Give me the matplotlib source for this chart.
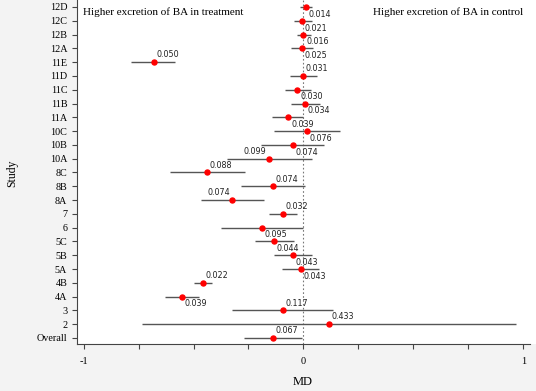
import numpy as np
import matplotlib.pyplot as plt

studies = ["12D", "12C", "12B", "12A", "11E", "11D", "11C", "11B", "11A",
           "10C", "10B", "10A", "8C", "8B", "8A", "7", "6", "5C", "5B", "5A",
           "4B", "4A", "3", "2", "Overall"]
md = [0.012, -0.007, 0.0, -0.007, -0.682, -0.003, -0.027, 0.008, -0.068,
      0.015, -0.048, -0.155, -0.438, -0.139, -0.323, -0.094, -0.188, -0.133, -0.047, -0.012,
      -0.457, -0.551, -0.094, 0.115, -0.139]
lower = [-0.015, -0.045, -0.030, -0.056, -0.783, -0.060, -0.086, -0.057, -0.144,
         -0.134, -0.192, -0.348, -0.609, -0.285, -0.465, -0.157, -0.374, -0.220, -0.132, -0.098,
         -0.500, -0.629, -0.325, -0.733, -0.271]
upper = [0.038, 0.038, 0.034, 0.045, -0.586, 0.060, 0.034, 0.076, 0.000,
         0.165, 0.095, 0.041, -0.265, 0.008, -0.179, -0.030, 0.000, -0.045, 0.038, 0.071,
         -0.414, -0.477, 0.133, 0.965, -0.006]
se_labels = ["0.014", "0.021", "0.016", "0.025", "0.050", "0.031", "0.030", "0.034", "0.039",
             "0.076", "0.074", "0.099", "0.088", "0.074", "0.074", "0.032", "0.095", "0.044", "0.043", "0.043",
             "0.022", "0.039", "0.117", "0.433", "0.067"]
# where the SE label sits: b = below right, a = above right, l = above left
label_side = ["b", "b", "b", "b", "a", "a", "b", "b", "b",
              "b", "b", "l", "a", "a", "l", "a", "b", "b", "b", "b",
              "a", "b", "a", "a", "a"]

serif = "Liberation Serif"
n = len(studies)
y = np.arange(n)[::-1]

fig = plt.figure(figsize=(5.36, 3.91), dpi=100, facecolor="#f3f3f3")
ax = fig.add_axes([77 / 536, 47 / 391, 1 - 77 / 536, 344 / 391])
ax.set_facecolor("white")

ax.hlines(y, lower, upper, color="#555555", lw=1.0, zorder=2)
ax.plot(md, y, "o", color="red", ms=3.6, zorder=3)
ax.axvline(0, color="#777777", lw=0.8, ls=(0, (1.5, 2)), zorder=1)

for xi, yi, lab, side in zip(md, y, se_labels, label_side):
    if side == "b":
        off, ha = (1.9, -5.2), "left"
    elif side == "a":
        off, ha = (1.9, 5.2), "left"
    else:
        off, ha = (-1.9, 5.2), "right"
    ax.annotate(lab, (xi, yi), xytext=off, textcoords="offset points",
                ha=ha, va="center", fontsize=5.8, color="#222222",
                family="DejaVu Sans")

ax.set_xlim(-1.03, 1.058)
ax.set_ylim(-0.437, n - 1 + 0.507)
ax.set_yticks(y)
ax.set_yticklabels(studies, family=serif, fontsize=7.3)
ax.set_xticks([-1, 0, 1])
ax.set_xticklabels(["-1", "0", "1"], family=serif, fontsize=7.5)
ax.set_xticks(np.arange(-1, 1.01, 0.25), minor=True)
ax.tick_params(axis="both", which="both", length=3.5, width=0.8, color="#444444")
ax.tick_params(axis="x", pad=6)

for s in ["top", "right"]:
    ax.spines[s].set_visible(False)
ax.spines["left"].set_color("#444444")
ax.spines["bottom"].set_color("#444444")
ax.spines["bottom"].set_bounds(-1.03, 1.03)

ax.set_xlabel("MD", family=serif, fontsize=9, va="center")
ax.xaxis.set_label_coords(0.492, -0.11)
ax.set_ylabel("Study", family=serif, fontsize=8.5, va="center")
ax.yaxis.set_label_coords(-0.142, 0.497)

ax.text(0.012, 0.965, "Higher excretion of BA in treatment", transform=ax.transAxes,
        family=serif, fontsize=8, va="center", ha="left")
ax.text(0.972, 0.965, "Higher excretion of BA in control", transform=ax.transAxes,
        family=serif, fontsize=8, va="center", ha="right")

fig.savefig("out.png", dpi=100, facecolor=fig.get_facecolor())
